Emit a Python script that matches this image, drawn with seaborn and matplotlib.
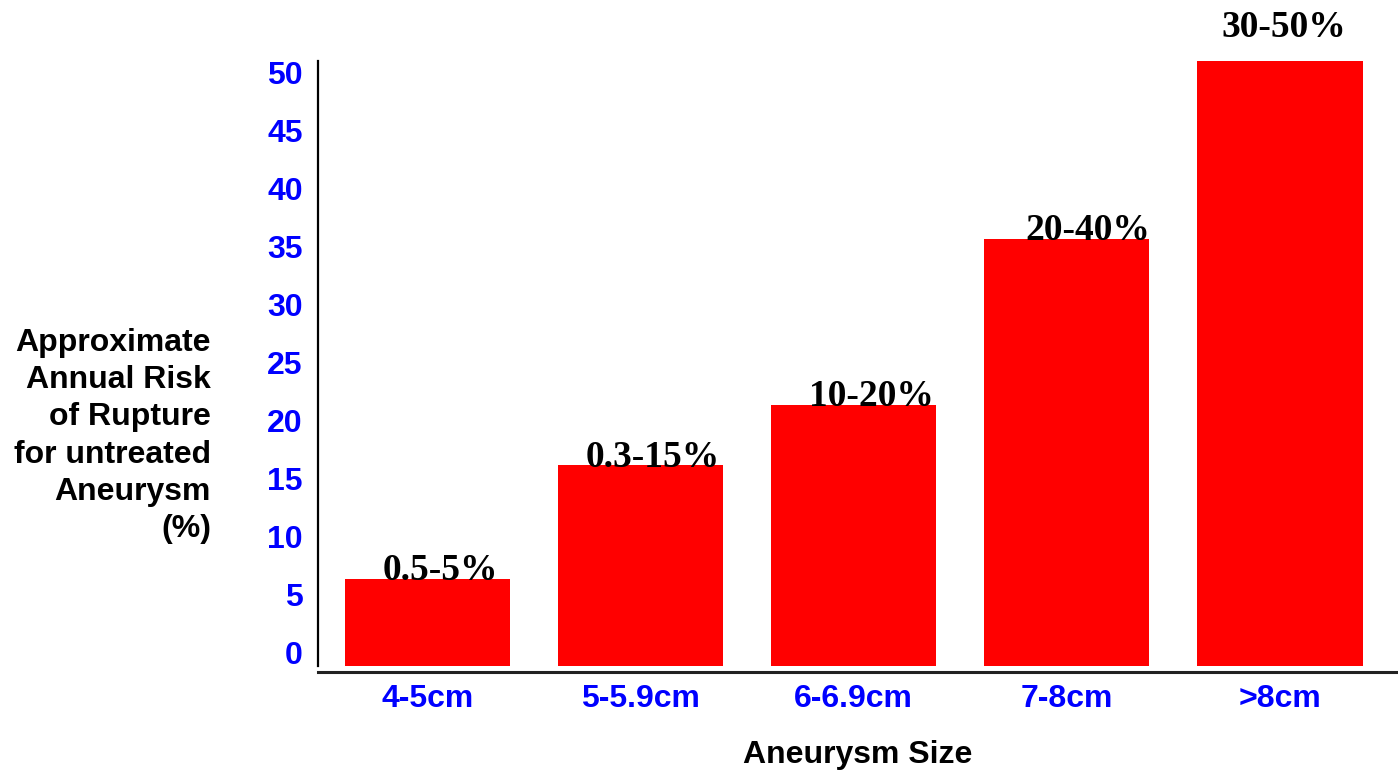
import matplotlib
matplotlib.use("Agg")
import matplotlib.pyplot as plt
import matplotlib.transforms as mtransforms
import seaborn as sns
import pandas as pd

# Data
sizes = ["4-5cm", "5-5.9cm", "6-6.9cm", "7-8cm", ">8cm"]
risk = [7.2, 16.6, 21.6, 35.3, 50.0]
risk_labels = ["0.5-5%", "0.3-15%", "10-20%", "20-40%", "30-50%"]
y_ticks = [0, 5, 10, 15, 20, 25, 30, 35, 40, 45, 50]

# Label offsets in points (x, y) relative to each bar's top centre
label_offsets = [(9, -1), (9, -1), (13, -1), (15, -1), (3, 17)]

sns.set_theme(style="white")
plt.rcParams["font.family"] = ["Liberation Sans", "DejaVu Sans"]

df = pd.DataFrame({"size": sizes, "risk": risk})

fig = plt.figure(figsize=(13.98, 7.72), dpi=100)
ax = fig.add_axes([318 / 1398, 1 - 666 / 772, (1398 - 318) / 1398, (666 - 61) / 772])

sns.barplot(data=df, x="size", y="risk", color="#FF0000", saturation=1,
            width=0.775, edgecolor="none", linewidth=0, ax=ax)

ax.set_xlim(-0.514, 4.554)
ax.set_ylim(0, 50)
ax.set_yticks(y_ticks)
ax.set_yticklabels([str(t) for t in y_ticks])

for sp in ["top", "right"]:
    ax.spines[sp].set_visible(False)
ax.spines["left"].set_color("black")
ax.spines["left"].set_linewidth(1.6)
ax.spines["bottom"].set_color("#222222")
ax.spines["bottom"].set_linewidth(2.2)
ax.spines["bottom"].set_position(("outward", 4))

ax.tick_params(axis="both", length=0)
ax.tick_params(axis="y", pad=11)
ax.tick_params(axis="x", pad=9)
for lbl in ax.get_yticklabels() + ax.get_xticklabels():
    lbl.set_color("#0000FF")
    lbl.set_fontweight("bold")
    lbl.set_fontsize(23)

# The value labels sit on a slightly tighter scale than the axis itself:
# nudge the low ones up and the high ones down.
for t, lbl in zip(y_ticks, ax.get_yticklabels()):
    dy_px = 13 - 0.48 * t
    lbl.set_transform(lbl.get_transform() +
                      mtransforms.ScaledTranslation(0, dy_px / 100, fig.dpi_scale_trans))

ax.set_xlabel("Aneurysm Size", fontsize=23, fontweight="bold", color="black", va="center")
ax.xaxis.set_label_coords(0.5, -0.147)
ax.set_ylabel("")

fig.text(211 / 1398, 1 - 436 / 772,
         "Approximate\nAnnual Risk\nof Rupture\nfor untreated\nAneurysm\n(%)",
         ha="right", va="center", fontsize=23, fontweight="bold", color="black",
         linespacing=1.32)

for i, (v, txt) in enumerate(zip(risk, risk_labels)):
    dx, dy = label_offsets[i]
    ax.annotate(txt, xy=(i, v), xytext=(dx, dy), textcoords="offset points",
                ha="center", va="baseline", fontsize=27, fontweight="bold",
                family=["Liberation Serif", "DejaVu Serif"], color="black",
                annotation_clip=False)

fig.savefig("out.png", dpi=100)
